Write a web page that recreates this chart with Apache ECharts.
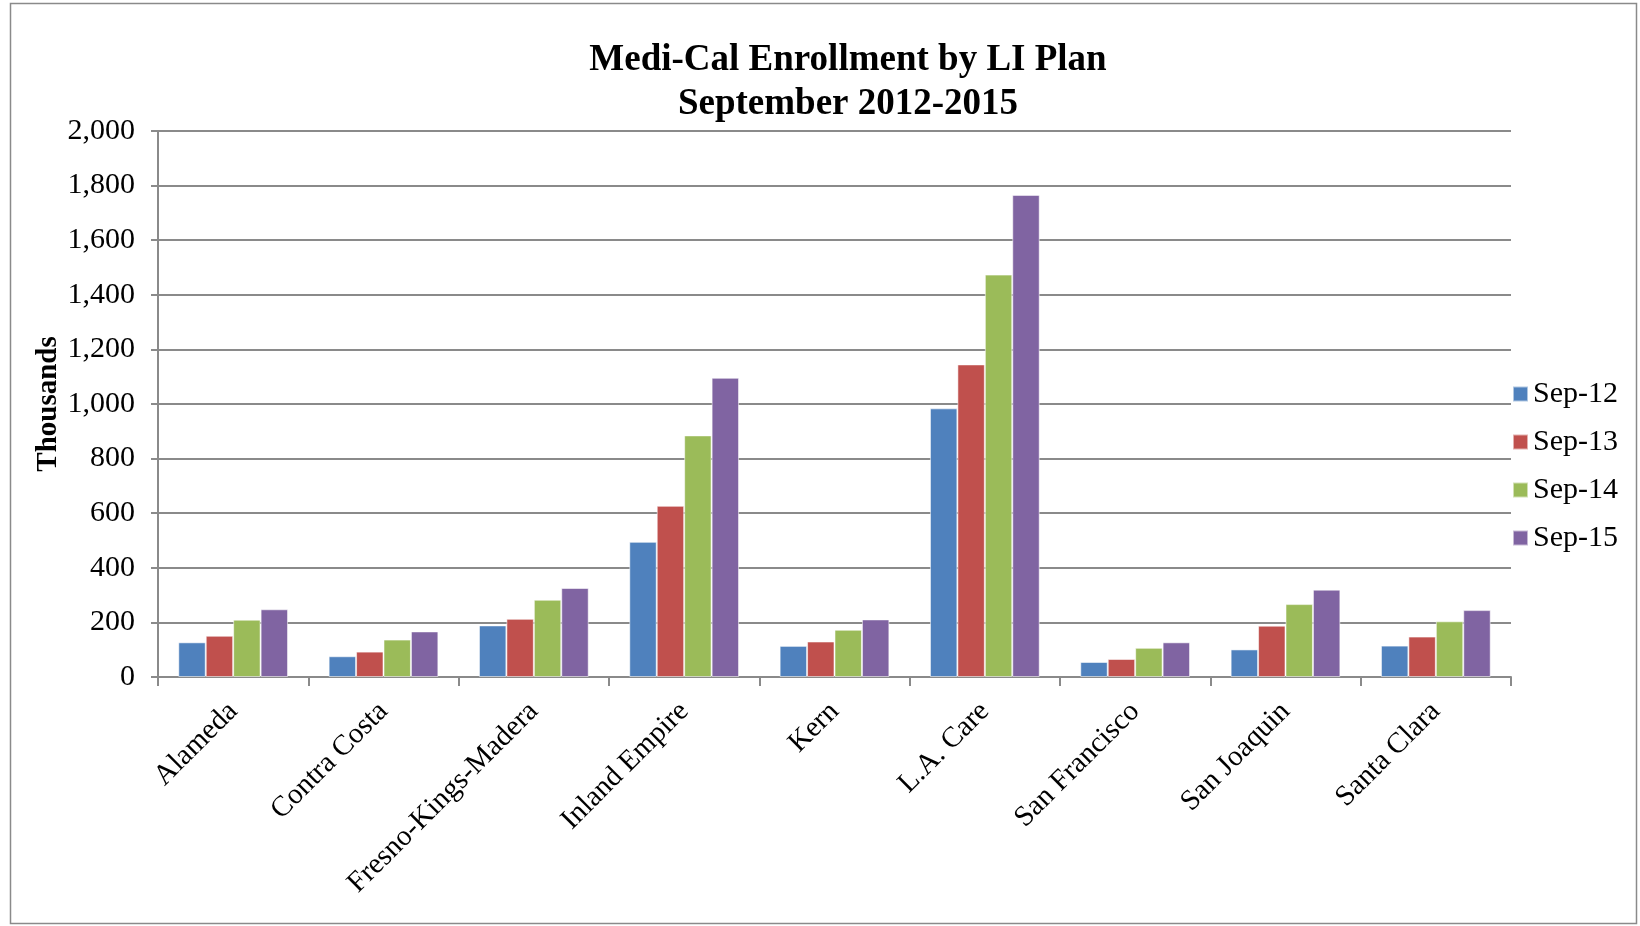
<!DOCTYPE html>
<html>
<head>
<meta charset="utf-8">
<script src="https://cdn.jsdelivr.net/npm/echarts@6/dist/echarts.min.js"></script>
<style>
html,body{margin:0;padding:0;background:#fff;}
#chart{width:1640px;height:926px;}
</style>
</head>
<body>
<div id="chart"></div>
<script>
const categories = ['Alameda','Contra Costa','Fresno-Kings-Madera','Inland Empire','Kern','L.A. Care','San Francisco','San Joaquin','Santa Clara'];
const seriesNames = ['Sep-12','Sep-13','Sep-14','Sep-15'];
const sep12 = [127, 76, 189, 495, 114, 984, 55, 101, 115];
const sep13 = [151, 93, 213, 627, 130, 1145, 66, 188, 148];
const sep14 = [210, 137, 283, 885, 173, 1474, 107, 267, 204];
const sep15 = [248, 167, 326, 1096, 211, 1766, 127, 320, 245];
const yTicks = [0, 200, 400, 600, 800, 1000, 1200, 1400, 1600, 1800, 2000];
const colors = ['#4F81BD','#C0504D','#9BBB59','#8064A2'];
const FONT = '"Liberation Serif","Times New Roman",serif';

const chart = echarts.init(document.getElementById('chart'), null, {renderer:'canvas'});
const allData = [sep12, sep13, sep14, sep15];
chart.setOption({
  animation: false,
  color: colors,
  title: {
    text: 'Medi-Cal Enrollment by LI Plan\nSeptember 2012-2015',
    left: 843, top: 33, textAlign: 'center',
    textStyle: {fontFamily: FONT, fontSize: 37, fontWeight: 'bold', color: '#000', lineHeight: 44}
  },
  graphic: [{
    type: 'rect', shape: {x: 10.5, y: 3.5, width: 1626, height: 920},
    style: {fill: 'none', stroke: '#8a8a8a', lineWidth: 1.5}, silent: true, z: -1
  }],
  legend: {
    orient: 'vertical', left: 1507, top: 374,
    itemWidth: 15, itemHeight: 15, itemGap: 18, icon: 'rect',
    textStyle: {fontFamily: FONT, fontSize: 30, color: '#000'},
    data: seriesNames
  },
  grid: {left: 158, right: 129, top: 131, bottom: 249, containLabel: false},
  xAxis: {
    type: 'category', data: categories,
    axisLine: {lineStyle: {color: '#8a8a8a', width: 2}},
    axisTick: {show: true, interval: 0, length: 9, alignWithLabel: false, lineStyle: {color: '#8a8a8a', width: 2}},
    axisLabel: {interval: 0, rotate: 45, margin: 30, fontFamily: FONT, fontSize: 29, color: '#000'}
  },
  yAxis: {
    type: 'value', min: yTicks[0], max: yTicks[yTicks.length-1], interval: 200,
    name: 'Thousands', nameLocation: 'middle', nameRotate: 90, nameGap: 95, nameMoveOverlap: false,
    nameTextStyle: {fontFamily: FONT, fontSize: 29, fontWeight: 'bold', color: '#000'},
    axisLine: {show: true, lineStyle: {color: '#8a8a8a', width: 2}},
    axisTick: {show: true, length: 7, lineStyle: {color: '#8a8a8a', width: 2}},
    axisLabel: {margin: 23, fontFamily: FONT, fontSize: 30, color: '#000',
      formatter: v => v.toLocaleString('en-US')},
    splitLine: {show: true, lineStyle: {color: '#8a8a8a', width: 2}}
  },
  series: seriesNames.map((n, i) => ({
    name: n, type: 'bar', data: allData[i],
    barGap: '0%', barCategoryGap: '27%',
    itemStyle: {color: colors[i], borderColor: 'rgba(255,255,255,0.55)', borderWidth: 1}
  }))
});
</script>
</body>
</html>
